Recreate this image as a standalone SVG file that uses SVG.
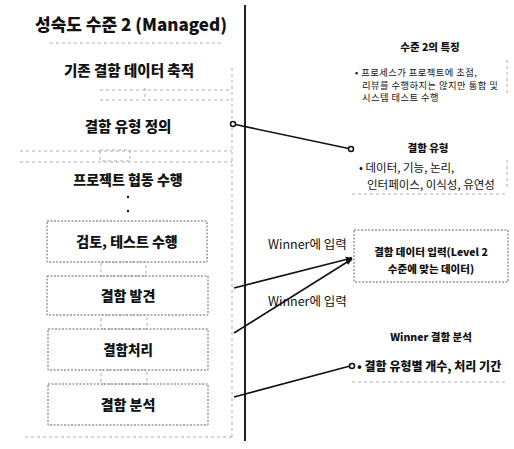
<svg xmlns="http://www.w3.org/2000/svg" width="514" height="449" viewBox="0 0 514 449">
<style>
  .kr { font-family: "Noto Sans CJK KR", "Noto Sans", "Liberation Sans", sans-serif; fill: #111; }
  .b { font-weight: 900; }
  .sm { font-size: 9.3px; letter-spacing: 0.45px; }
  .node { fill: none; stroke: #666; stroke-width: 1; stroke-dasharray: 2 1.5; }
  .faint { fill: none; stroke: #999; stroke-width: 0.8; stroke-dasharray: 3 3; }
  .conn { stroke: #111; stroke-width: 1.6; fill: none; }
  .end { fill: #fff; stroke: #111; stroke-width: 1.5; }
</style>
<defs>
  <marker id="arrow" viewBox="0 0 10 10" refX="9" refY="5" markerWidth="7" markerHeight="7" orient="auto-start-reverse" markerUnits="userSpaceOnUse">
    <path d="M0,1 L10,5 L0,9 Z" fill="#111"/>
  </marker>
</defs>
<rect width="514" height="449" fill="#fff"/>

<text class="kr b" x="35" y="31" font-size="17">성숙도 수준 2 (Managed)</text>
<line class="faint" x1="50" y1="43" x2="222" y2="43"/>

<!-- frame -->
<g id="frame">
  <line x1="245" y1="5" x2="245" y2="441" stroke="#222" stroke-width="2"/>
  <line class="faint" x1="232" y1="68" x2="232" y2="437"/>
  <line class="faint" x1="25" y1="437" x2="232" y2="437"/>
  <line class="faint" x1="507" y1="60" x2="507" y2="95"/>
  <line class="faint" x1="507" y1="160" x2="507" y2="190"/>
</g>

<g id="n1">
  <text class="kr b" x="129" y="76" font-size="14.5" text-anchor="middle">기존 결함 데이터 축적</text>
</g>
<g id="sep1">
  <line class="faint" x1="100" y1="90" x2="232" y2="90"/>
  <line class="faint" x1="100" y1="100" x2="232" y2="100"/>
  <line class="faint" x1="145" y1="88" x2="145" y2="100"/>
</g>
<g id="n2">
  <text class="kr b" x="128" y="132" font-size="14.5" text-anchor="middle">결함 유형 정의</text>
</g>
<g id="sep2">
  <line class="faint" x1="20" y1="151" x2="232" y2="151"/>
  <line class="faint" x1="20" y1="162" x2="232" y2="162"/>
  <rect class="faint" x="100" y="150" width="30" height="11"/>
</g>
<g id="n3">
  <text class="kr b" x="128" y="185" font-size="14" text-anchor="middle">프로젝트 협동 수행</text>
  <circle cx="128" cy="197" r="1.2" fill="#111"/>
  <circle cx="128" cy="211" r="1.2" fill="#111"/>
</g>
<g id="n4">
  <rect class="node" x="47" y="221" width="160" height="41"/>
  <text class="kr b" x="127" y="247" font-size="14" text-anchor="middle">검토, 테스트 수행</text>
</g>
<rect class="faint" x="101" y="262" width="45" height="14"/>
<g id="n5">
  <rect class="node" x="47" y="276" width="161" height="39"/>
  <text class="kr b" x="128" y="301" font-size="14" text-anchor="middle">결함 발견</text>
</g>
<rect class="faint" x="101" y="315" width="46" height="14"/>
<g id="n6">
  <rect class="node" x="48" y="329" width="160" height="41"/>
  <text class="kr b" x="128" y="355" font-size="13.5" text-anchor="middle">결함처리</text>
</g>
<rect class="faint" x="101" y="370" width="46" height="14"/>
<g id="n7">
  <rect class="node" x="48" y="384" width="160" height="41"/>
  <text class="kr b" x="128" y="410" font-size="14" text-anchor="middle">결함 분석</text>
</g>

<!-- right side -->
<g id="r1">
  <text class="kr b" x="430" y="51" font-size="10.5" text-anchor="middle">수준 2의 특징</text>
  <text class="kr sm" x="355" y="76">• 프로세스가 프로젝트에 초점,</text>
  <text class="kr sm" x="362" y="88.5">리뷰를 수행하지는 않지만 통합 및</text>
  <text class="kr sm" x="362" y="101">시스템 테스트 수행</text>
</g>
<g id="r2">
  <text class="kr b" x="428" y="152" font-size="10.5" text-anchor="middle">결함 유형</text>
  <text class="kr" x="359" y="172" font-size="11.5">• 데이터, 기능, 논리,</text>
  <text class="kr" x="367" y="189" font-size="11.5">인터페이스, 이식성, 유연성</text>
  <line class="faint" x1="352" y1="194" x2="507" y2="194"/>
</g>
<g id="r3">
  <rect class="node" x="354" y="230" width="154" height="52" stroke="#888"/>
  <text class="kr b" x="431" y="256" font-size="10.5" text-anchor="middle">결함 데이터 입력(Level 2</text>
  <text class="kr b" x="431" y="273" font-size="10.5" text-anchor="middle">수준에 맞는 데이터)</text>
</g>
<g id="r4">
  <text class="kr b" x="431" y="341" font-size="10.5" text-anchor="middle">Winner 결함 분석</text>
  <text class="kr b" x="357" y="371" font-size="12">• 결함 유형별 개수, 처리 기간</text>
  <line class="faint" x1="352" y1="382" x2="507" y2="382"/>
</g>

<g id="connectors">
  <line class="conn" x1="233" y1="124" x2="351" y2="149"/>
  <circle class="end" cx="233" cy="124" r="2.5"/>
  <circle class="end" cx="351" cy="149" r="2.5"/>
  <line class="conn" x1="234" y1="288" x2="352" y2="258" marker-end="url(#arrow)"/>
  <line class="conn" x1="234" y1="333" x2="352" y2="259" marker-end="url(#arrow)"/>
  <line class="conn" x1="234" y1="397" x2="350" y2="366"/>
  <circle class="end" cx="352" cy="366" r="2.5"/>
  <text class="kr" x="268" y="249" font-size="12.5">Winner에 입력</text>
  <text class="kr" x="268" y="306" font-size="12.5">Winner에 입력</text>
</g>
</svg>
